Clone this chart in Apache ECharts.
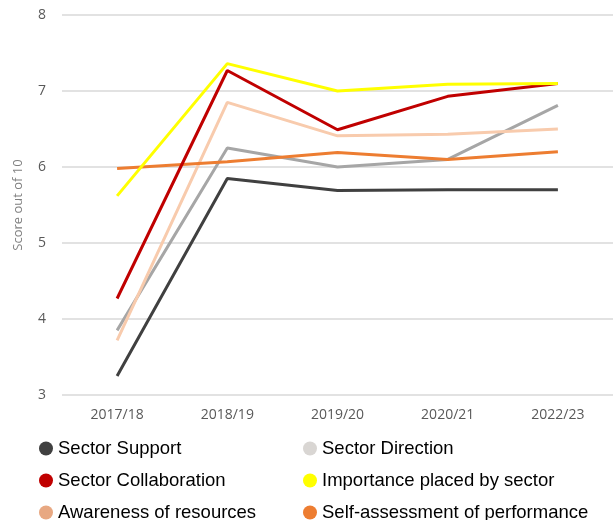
<!DOCTYPE html>
<html>
<head>
<meta charset="utf-8">
<script src="https://cdn.jsdelivr.net/npm/echarts@6/dist/echarts.min.js"></script>
<style>
  html, body { margin: 0; padding: 0; background: #fff; }
  #chart { width: 613px; height: 520px; }
</style>
</head>
<body>
<div id="chart"></div>
<script>
// categories & tick labels
const years = ['2017/18', '2018/19', '2019/20', '2020/21', '2022/23'];
const yTicks = [3, 4, 5, 6, 7, 8];

// series values (score out of 10)
const sectorSupport = [3.25, 5.85, 5.69, 5.70, 5.70];
const sectorDirection = [3.85, 6.25, 6.00, 6.10, 6.81];
const sectorCollaboration = [4.27, 7.27, 6.49, 6.93, 7.10];
const importancePlaced = [5.62, 7.36, 7.00, 7.09, 7.10];
const awarenessResources = [3.72, 6.85, 6.41, 6.43, 6.50];
const selfAssessment = [5.98, 6.07, 6.19, 6.10, 6.20];

const myChart = echarts.init(document.getElementById('chart'));

function mkLine(name, data, color) {
    return {
        name: name,
        type: 'line',
        data: data,
        symbol: 'none',
        lineStyle: { color: color, width: 3 },
        itemStyle: { color: color },
        emphasis: { disabled: true }
    };
}

const legendText = {
    color: '#000',
    fontFamily: 'Liberation Sans, Arial, sans-serif',
    fontSize: 18.5
};

const option = {
    backgroundColor: '#fff',
    animation: false,
    grid: { left: 62, right: -6, top: 15, bottom: 125 },
    xAxis: {
        type: 'category',
        data: years,
        boundaryGap: true,
        axisLine: { show: false },
        axisTick: { show: false },
        axisLabel: {
            color: '#595959',
            fontFamily: 'Open Sans, sans-serif',
            fontSize: 14,
            margin: 13
        }
    },
    yAxis: {
        type: 'value',
        min: yTicks[0],
        max: yTicks[yTicks.length - 1],
        interval: 1,
        name: 'Score out of 10',
        nameLocation: 'middle',
        nameRotate: 90,
        nameGap: 37,
        nameTextStyle: { color: '#7f7f7f', fontFamily: 'Open Sans, sans-serif', fontSize: 13 },
        axisLine: { show: false },
        axisTick: { show: false },
        axisLabel: {
            color: '#595959',
            fontFamily: 'Open Sans, sans-serif',
            fontSize: 14,
            margin: 16
        },
        splitLine: { lineStyle: { color: '#d9d9d9', width: 1.5 } }
    },
    legend: [
        {
            left: 39, top: 439, height: 120, padding: 0, orient: 'vertical', itemGap: 13,
            icon: 'circle', itemWidth: 14, itemHeight: 14,
            textStyle: legendText,
            selectedMode: false,
            data: [
                { name: 'Sector Support', itemStyle: { color: '#404040' } },
                { name: 'Sector Collaboration', itemStyle: { color: '#c00000' } },
                { name: 'Awareness of resources', itemStyle: { color: '#e8a882' } }
            ]
        },
        {
            left: 303, top: 439, height: 120, padding: 0, orient: 'vertical', itemGap: 13,
            icon: 'circle', itemWidth: 14, itemHeight: 14,
            textStyle: legendText,
            selectedMode: false,
            data: [
                { name: 'Sector Direction', itemStyle: { color: '#d9d6d3' } },
                { name: 'Importance placed by sector', itemStyle: { color: '#ffff00' } },
                { name: 'Self-assessment of performance', itemStyle: { color: '#ed7d31' } }
            ]
        }
    ],
    series: [
        mkLine('Sector Support', sectorSupport, '#404040'),
        mkLine('Sector Direction', sectorDirection, '#a6a6a6'),
        mkLine('Awareness of resources', awarenessResources, '#f8cbad'),
        mkLine('Self-assessment of performance', selfAssessment, '#ed7d31'),
        mkLine('Sector Collaboration', sectorCollaboration, '#c00000'),
        mkLine('Importance placed by sector', importancePlaced, '#ffff00')
    ]
};

myChart.setOption(option);
</script>
</body>
</html>
